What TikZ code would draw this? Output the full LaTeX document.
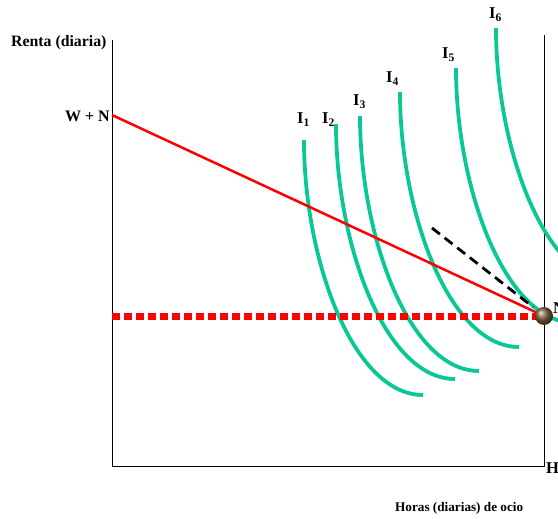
\documentclass[tikz,border=0pt]{standalone}
\usepackage{fontspec}
\setmainfont{Liberation Serif}
\definecolor{icgreen}{RGB}{10,200,150}
\definecolor{ballbrown}{RGB}{125,100,60}
\tikzset{
  lbl/.style={font=\fontsize{16.5}{18}\selectfont\bfseries, inner sep=0pt},
  axis/.style={line width=1pt, black},
  indiff/.style={icgreen, line width=3.8pt},
  budget/.style={red, line width=2.5pt},
  floor/.style={red, line width=7pt, dash pattern=on 7.5pt off 4.5pt},
  tangent/.style={black, line width=2.8pt, dash pattern=on 10pt off 6pt},
}
\newcommand{\icurve}[2]{\draw[indiff] (#1,#2) .. controls +(0,120) and +(-70,0) .. +(119,255);}
\begin{document}
\begin{tikzpicture}[x=1pt,y=-1pt]
\useasboundingbox (0,0) rectangle (558,519);
% axes
\coordinate (ytop) at (112,40);
\coordinate (origin) at (112,466);
\coordinate (xend) at (544,466);
\coordinate (rtop) at (544,35);
\draw[axis] (ytop) -- (origin) -- (xend) -- (rtop);
% curves
\icurve{304}{140}
\icurve{336}{124}
\icurve{360}{116}
\icurve{400}{92}
\icurve{456}{68}
\icurve{496}{28}
% budget
\coordinate (wn) at (112,115);
\coordinate (m) at (544,316);
\coordinate (fl) at (112,316);
\coordinate (ts) at (432,228);
\draw[floor] (fl) -- (540,316);
\draw[budget] (wn) -- (m);
\draw[tangent] (ts) -- (533,307);
\shade[ball color=ballbrown] (m) circle (9pt);
% labels
\node[lbl, font=\fontsize{15.8}{18}\selectfont\bfseries, anchor=base west] (renta) at (11,47) {Renta (diaria)};
\node[lbl, font=\fontsize{16}{18}\selectfont\bfseries, anchor=base east] (wnl) at (110,122) {W\hspace{4pt}+\hspace{4pt}N};
\node[lbl, font=\fontsize{13.2}{15}\selectfont\bfseries, anchor=base west] (horas) at (395,511) {Horas (diarias) de ocio};
\node[lbl, anchor=base west] (hl) at (546,473) {H};
\node[lbl, anchor=base west] (nl) at (553,313) {N};
\node[lbl, anchor=base west] (i1) at (297,124) {I\textsubscript{1}};
\node[lbl, anchor=base west] (i2) at (322,124) {I\textsubscript{2}};
\node[lbl, anchor=base west] (i3) at (353,106) {I\textsubscript{3}};
\node[lbl, anchor=base west] (i4) at (386,83) {I\textsubscript{4}};
\node[lbl, anchor=base west] (i5) at (442,59) {I\textsubscript{5}};
\node[lbl, anchor=base west] (i6) at (489,19) {I\textsubscript{6}};
\end{tikzpicture}
\end{document}
